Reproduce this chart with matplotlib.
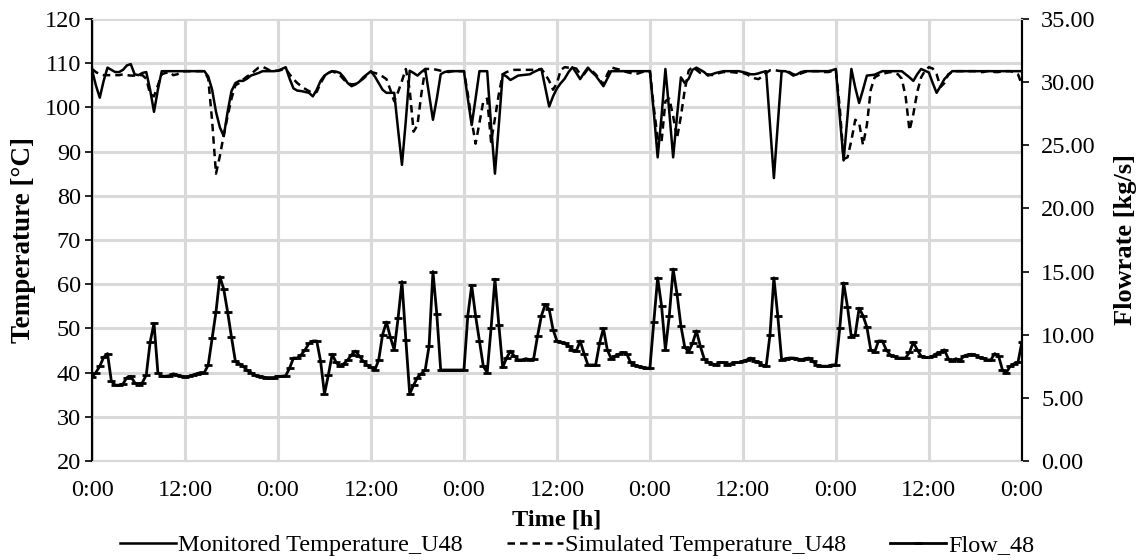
import numpy as np
import matplotlib
matplotlib.use('Agg')
import matplotlib.pyplot as plt
from matplotlib.ticker import FormatStrFormatter

plt.rcParams['font.family'] = ['Liberation Serif', 'DejaVu Serif']

# half-hourly samples, 0 h .. 120 h
time_h = np.arange(0, 120.5, 0.5)

monitored_temp = [
    108.5, 105.0, 102.2, 106.0, 109.0, 108.5, 108.0, 108.0, 108.5, 109.5, 109.8, 107.5,
    107.3, 107.8, 108.0, 104.0, 99.0, 104.0, 108.2, 108.2, 108.2, 108.2, 108.2, 108.2,
    108.2, 108.2, 108.2, 108.2, 108.2, 108.2, 107.0, 104.0, 99.0, 95.5, 93.5, 99.0,
    103.7, 105.5, 106.0, 106.0, 106.5, 107.2, 107.5, 107.8, 108.2, 108.2, 108.2, 108.2,
    108.3, 108.7, 109.1, 106.5, 104.3, 103.8, 103.7, 103.5, 103.3, 102.5, 104.0, 106.0,
    107.2, 107.8, 108.2, 108.1, 107.8, 106.8, 105.5, 104.8, 105.2, 105.8, 106.8, 107.5,
    108.2, 107.0, 105.5, 104.0, 103.3, 103.3, 103.3, 95.0, 87.0, 97.0, 108.3, 107.8,
    107.2, 108.0, 108.7, 103.0, 97.2, 102.0, 107.5, 108.0, 108.2, 108.2, 108.2, 108.2,
    108.2, 102.0, 96.0, 102.0, 108.2, 108.2, 108.2, 96.0, 85.0, 96.0, 107.5, 107.0,
    106.2, 106.7, 107.2, 107.3, 107.4, 107.5, 108.0, 108.4, 108.7, 104.5, 100.2, 102.5,
    104.3, 105.5, 106.5, 108.0, 109.1, 107.8, 106.4, 107.8, 109.0, 108.0, 107.2, 106.0,
    104.8, 106.5, 108.2, 108.2, 108.2, 108.2, 108.2, 108.2, 108.2, 108.2, 108.2, 108.2,
    108.2, 99.0, 88.7, 98.0, 108.7, 99.0, 88.7, 98.0, 106.8, 105.5, 106.5, 108.5,
    109.0, 108.5, 108.0, 107.2, 107.5, 107.8, 108.0, 108.2, 108.2, 108.2, 108.2, 108.2,
    108.0, 107.8, 107.5, 107.5, 107.7, 108.0, 108.2, 96.0, 84.0, 96.0, 108.2, 108.2,
    107.8, 107.2, 107.5, 108.0, 108.2, 108.2, 108.2, 108.2, 108.2, 108.2, 108.2, 108.4,
    108.7, 98.0, 88.0, 98.0, 108.7, 104.5, 101.0, 104.0, 107.2, 107.3, 107.4, 107.8,
    108.2, 108.2, 108.2, 108.2, 108.2, 108.2, 107.5, 106.8, 106.0, 107.5, 108.7, 108.3,
    107.9, 105.5, 103.3, 104.8, 106.4, 107.3, 108.2, 108.2, 108.2, 108.2, 108.2, 108.2,
    108.2, 108.2, 108.2, 108.2, 108.2, 108.2, 108.2, 108.2, 108.2, 108.2, 108.2, 108.2,
    108.2,
]

simulated_temp = [
    108.7, 108.0, 107.5, 107.3, 107.3, 107.3, 107.3, 107.3, 107.5, 107.3, 107.2, 107.2,
    107.3, 107.3, 106.5, 103.0, 102.5, 105.0, 107.5, 107.8, 108.0, 107.3, 107.5, 108.0,
    108.2, 108.2, 108.2, 108.2, 108.2, 108.2, 106.5, 97.0, 85.0, 89.0, 93.7, 98.0,
    102.0, 105.0, 105.5, 106.3, 107.0, 107.5, 108.3, 109.0, 109.2, 108.8, 108.3, 108.3,
    108.3, 108.5, 108.7, 107.5, 106.4, 105.5, 104.8, 104.2, 103.7, 103.2, 103.5, 105.5,
    107.0, 107.8, 108.2, 107.8, 107.3, 106.3, 105.5, 105.2, 105.3, 105.8, 106.5, 107.3,
    108.0, 107.8, 107.5, 107.0, 106.4, 104.0, 101.4, 103.5, 106.0, 108.7, 104.0, 94.5,
    96.0, 103.0, 108.7, 108.7, 108.7, 108.5, 108.3, 108.2, 108.0, 108.2, 108.2, 108.2,
    108.2, 103.0, 97.0, 91.8, 96.5, 101.4, 102.0, 92.2, 97.5, 103.0, 107.5, 108.0,
    108.3, 108.5, 108.5, 108.5, 108.5, 108.5, 108.5, 108.6, 108.7, 107.5, 106.0, 104.0,
    105.5, 108.5, 109.1, 109.0, 109.0, 108.8, 107.5, 107.5, 108.7, 108.3, 107.5, 106.3,
    105.2, 107.5, 109.1, 108.8, 108.6, 108.3, 108.0, 107.8, 107.5, 107.7, 108.0, 108.2,
    108.2, 100.0, 93.0, 92.2, 101.4, 102.0, 98.0, 93.0, 98.0, 104.0, 108.3, 109.2,
    108.5, 107.8, 107.5, 107.5, 107.3, 107.5, 107.8, 108.0, 108.0, 108.0, 107.9, 107.8,
    107.8, 107.5, 107.0, 106.6, 106.4, 107.0, 107.8, 108.4, 108.5, 108.3, 108.2, 108.2,
    108.0, 107.5, 107.3, 107.7, 108.0, 108.2, 108.2, 108.2, 108.2, 108.0, 108.0, 108.2,
    108.3, 100.0, 88.3, 88.7, 92.5, 97.2, 96.5, 91.5, 96.0, 104.0, 106.8, 107.3,
    107.6, 107.8, 108.0, 107.8, 107.5, 106.5, 102.5, 94.8, 98.5, 103.5, 106.8, 108.3,
    109.1, 108.8, 107.5, 104.6, 105.5, 107.5, 108.0, 108.2, 108.2, 108.2, 108.2, 108.2,
    108.2, 108.0, 108.0, 108.2, 108.2, 108.0, 108.0, 108.2, 108.2, 108.2, 108.0, 107.5,
    105.2,
]

flow = [
    6.65, 7.0, 7.5, 8.2, 8.5, 6.3, 6.0, 6.0, 6.1, 6.6, 6.7, 6.2,
    6.0, 6.2, 6.8, 9.4, 10.9, 7.0, 6.7, 6.7, 6.75, 6.9, 6.8, 6.7,
    6.65, 6.7, 6.8, 6.9, 7.0, 7.0, 7.6, 9.7, 11.8, 14.6, 13.6, 11.8,
    9.8, 7.9, 7.7, 7.5, 7.2, 7.0, 6.8, 6.7, 6.65, 6.6, 6.6, 6.6,
    6.7, 6.7, 6.75, 7.35, 8.15, 8.15, 8.4, 8.8, 9.3, 9.5, 9.5, 7.9,
    5.3, 6.8, 8.45, 7.8, 7.5, 7.7, 8.0, 8.4, 8.7, 8.3, 7.9, 7.6,
    7.4, 7.2, 8.0, 10.0, 11.0, 9.8, 8.8, 11.3, 14.2, 9.6, 5.3, 6.0,
    6.6, 6.9, 7.2, 9.1, 15.0, 11.6, 7.2, 7.2, 7.2, 7.2, 7.2, 7.2,
    7.2, 11.5, 13.9, 11.5, 9.5, 7.5, 7.0, 10.5, 14.4, 10.8, 7.4, 8.15,
    8.7, 8.3, 8.0, 8.0, 8.1, 8.0, 8.1, 9.9, 11.5, 12.4, 12.0, 10.4,
    9.5, 9.4, 9.3, 9.1, 8.8, 8.7, 9.5, 8.5, 7.6, 7.6, 7.6, 9.3,
    10.5, 8.8, 8.1, 8.3, 8.45, 8.6, 8.5, 7.8, 7.6, 7.5, 7.4, 7.35,
    7.35, 11.0, 14.5, 12.3, 8.8, 11.5, 15.2, 13.2, 10.7, 9.0, 8.65, 9.3,
    10.3, 9.1, 8.1, 7.8, 7.7, 7.6, 7.8, 7.8, 7.6, 7.7, 7.8, 7.8,
    7.9, 8.0, 8.15, 7.9, 7.8, 7.6, 7.5, 10.0, 14.5, 11.5, 8.0, 8.1,
    8.15, 8.15, 8.1, 8.0, 8.1, 8.15, 7.9, 7.6, 7.5, 7.5, 7.5, 7.6,
    7.6, 10.5, 14.1, 12.2, 9.8, 10.0, 12.1, 11.5, 10.6, 8.8, 8.6, 9.5,
    9.5, 8.8, 8.4, 8.3, 8.15, 8.15, 8.15, 8.6, 9.4, 8.8, 8.3, 8.2,
    8.2, 8.3, 8.5, 8.6, 8.8, 8.1, 7.9, 8.1, 7.9, 8.3, 8.4, 8.45,
    8.4, 8.2, 8.15, 8.0, 8.0, 8.5, 8.3, 7.2, 7.0, 7.5, 7.7, 7.8,
    9.4,
]

tick_hours = list(range(0, 121, 12))
tick_labels = ['0:00', '12:00'] * 5 + ['0:00']

fig = plt.figure(figsize=(11.43, 5.6), dpi=100)
ax = fig.add_axes([0.0805, 0.177, 0.8135, 0.789])
ax2 = ax.twinx()

grid_col = '#d9d9d9'
ax.set_xlim(0, 120)
ax.set_ylim(20, 120)
ax.set_yticks(range(20, 121, 10))
ax.set_xticks(tick_hours)
ax.set_xticklabels(tick_labels)
ax.grid(True, color=grid_col, linewidth=2.2)
ax.set_axisbelow(True)
ax2.set_ylim(0, 35)
ax2.set_yticks(range(0, 36, 5))
ax2.yaxis.set_major_formatter(FormatStrFormatter('%.2f'))

l1, = ax.plot(time_h, monitored_temp, color='black', linewidth=1.8,
              label='Monitored Temperature_U48')
l2, = ax.plot(time_h, simulated_temp, color='black', linewidth=1.8,
              linestyle=(0, (3, 2)), label='Simulated Temperature_U48')
l3, = ax2.plot(time_h, flow, color='black', linewidth=2.0, marker='_',
               markersize=6, markeredgewidth=2.0, label='Flow_48')

for a in (ax, ax2):
    a.spines['top'].set_color(grid_col)
    a.spines['bottom'].set_color(grid_col)
    a.spines['left'].set_color('black')
    a.spines['right'].set_color('black')
    a.spines['left'].set_linewidth(1.5)
    a.spines['right'].set_linewidth(1.5)
    a.tick_params(axis='x', length=0, labelsize=17.5, pad=14)
ax.tick_params(axis='y', direction='out', length=5, width=1.2, labelsize=17.5, pad=3)
ax2.tick_params(axis='y', direction='out', length=5, width=1.2, labelsize=17.5, pad=9)

ax.set_ylabel('Temperature [°C]', fontsize=19.5, fontweight='bold', labelpad=6)
ax2.set_ylabel('Flowrate [kg/s]', fontsize=19, fontweight='bold', labelpad=13)
ax.set_xlabel('Time [h]', fontsize=17.5, fontweight='bold', labelpad=6)

fig.legend(handles=[l1, l2, l3], loc='lower center', bbox_to_anchor=(0.505, -0.032),
           ncol=3, frameon=False, fontsize=17.5, handlelength=2.3,
           handletextpad=0.1, columnspacing=1.8)

fig.savefig('out.png', dpi=100)
